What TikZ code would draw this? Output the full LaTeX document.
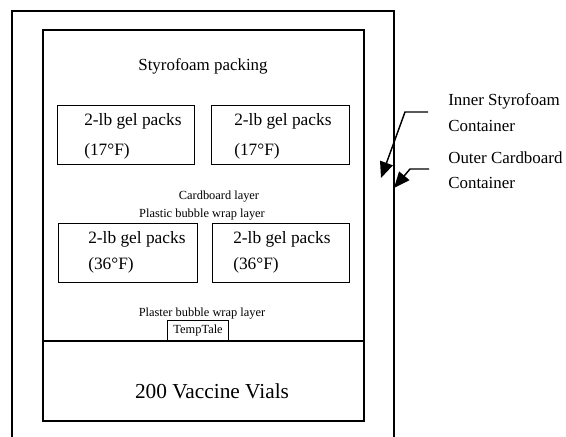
\documentclass[tikz,border=0pt]{standalone}
\usepackage{fontspec}
\setmainfont{Liberation Serif}
\usetikzlibrary{arrows.meta}
\begin{document}
\begin{tikzpicture}[x=0.75pt,y=-0.75pt,
  boxline/.style={draw=black,line width=1.6pt},
  thinbox/.style={draw=black,line width=0.9pt},
  geltxt/.style={font=\fontsize{13}{15}\selectfont,anchor=west,inner sep=0pt},
  smalltxt/.style={font=\fontsize{9.3}{11}\selectfont,inner sep=0pt},
  sidetxt/.style={font=\fontsize{12.7}{14}\selectfont,anchor=west,inner sep=0pt},
  callout/.style={draw=black,line width=1.1pt,-{Triangle[length=12pt,width=10pt]}}]
\useasboundingbox (0,0) rectangle (566,436);
% outer cardboard container (cut at bottom)
\draw[boxline] (12,440) -- (12,11) -- (394,11) -- (394,440);
% inner styrofoam container
\node[boxline,minimum width=321*0.75pt,minimum height=391*0.75pt,inner sep=0pt,anchor=north west] (inner) at (42,29) {};
\node[font=\fontsize{12.7}{14}\selectfont] (styro) at (203,66) {Styrofoam packing};
% gel packs
\node[thinbox,minimum width=137*0.75pt,minimum height=59*0.75pt,anchor=north west,inner sep=0pt] (g1) at (57,105) {};
\node[thinbox,minimum width=138*0.75pt,minimum height=59*0.75pt,anchor=north west,inner sep=0pt] (g2) at (211,105) {};
\node[thinbox,minimum width=139*0.75pt,minimum height=59*0.75pt,anchor=north west,inner sep=0pt] (g3) at (58,223) {};
\node[thinbox,minimum width=137*0.75pt,minimum height=59*0.75pt,anchor=north west,inner sep=0pt] (g4) at (212,223) {};
\node[geltxt] (t1a) at (84,121) {2-lb gel packs};
\node[geltxt] (t1b) at (84,151) {(17°F)};
\node[geltxt] (t2a) at (234,121) {2-lb gel packs};
\node[geltxt] (t2b) at (234,151) {(17°F)};
\node[geltxt] (t3a) at (88,239) {2-lb gel packs};
\node[geltxt] (t3b) at (88,265) {(36°F)};
\node[geltxt] (t4a) at (233,239) {2-lb gel packs};
\node[geltxt] (t4b) at (233,265) {(36°F)};
% layers
\node[smalltxt] (card) at (219,197) {Cardboard layer};
\node[smalltxt] (plastic) at (202,215) {Plastic bubble wrap layer};
\node[smalltxt] (plaster) at (202,314) {Plaster bubble wrap layer};
% divider and TempTale
\coordinate (dl) at (42,341);
\coordinate (dr) at (363,341);
\draw[line width=0.9pt] (dl) -- (dr);
\node[thinbox,draw,minimum width=61*0.75pt,minimum height=20*0.75pt,inner sep=0pt,anchor=south west,font=\fontsize{9.3}{11}\selectfont] (temp) at (167,341) {TempTale};
\node[font=\fontsize{16}{19}\selectfont] (vials) at (212,391) {200 Vaccine Vials};
% side labels
\node[sidetxt] (inA) at (448,101) {Inner Styrofoam};
\node[sidetxt] (inB) at (448,126) {Container};
\node[sidetxt] (outA) at (448,158) {Outer Cardboard};
\node[sidetxt] (outB) at (448,183) {Container};
% callouts
\coordinate (c1s) at (428,112);
\coordinate (c1m) at (405,112);
\coordinate (c1t) at (381,178);
\coordinate (c2s) at (429,169);
\coordinate (c2m) at (410,169);
\coordinate (c2t) at (394,188);
\draw[callout] (c1s) -- (c1m) -- (c1t);
\draw[callout] (c2s) -- (c2m) -- (c2t);
\end{tikzpicture}
\end{document}
